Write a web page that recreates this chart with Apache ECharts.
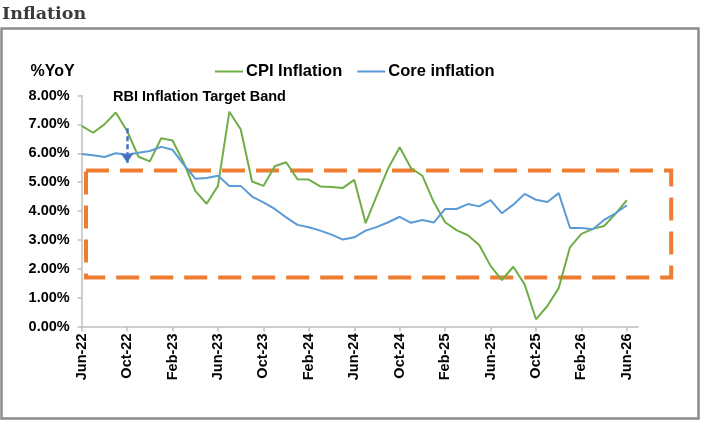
<!DOCTYPE html>
<html>
<head>
<meta charset="utf-8">
<script src="https://cdn.jsdelivr.net/npm/echarts@6/dist/echarts.min.js"></script>
<style>
  html, body { margin: 0; padding: 0; background: #fff; }
  #chart { width: 703px; height: 421px; }
</style>
</head>
<body>
<div id="chart"></div>
<script>
// monthly categories, one extra month at the end so the axis runs a bit past Jun-26
const months = [
  'Jun-22', 'Jul-22', 'Aug-22', 'Sep-22', 'Oct-22', 'Nov-22', 'Dec-22',
  'Jan-23', 'Feb-23', 'Mar-23', 'Apr-23', 'May-23', 'Jun-23', 'Jul-23', 'Aug-23', 'Sep-23', 'Oct-23', 'Nov-23', 'Dec-23',
  'Jan-24', 'Feb-24', 'Mar-24', 'Apr-24', 'May-24', 'Jun-24', 'Jul-24', 'Aug-24', 'Sep-24', 'Oct-24', 'Nov-24', 'Dec-24',
  'Jan-25', 'Feb-25', 'Mar-25', 'Apr-25', 'May-25', 'Jun-25', 'Jul-25', 'Aug-25', 'Sep-25', 'Oct-25', 'Nov-25', 'Dec-25',
  'Jan-26', 'Feb-26', 'Mar-26', 'Apr-26', 'May-26', 'Jun-26', 'Jul-26'
];

const cpiInflation = [
  6.95, 6.71, 7.00, 7.41, 6.77, 5.88, 5.72,
  6.52, 6.44, 5.66, 4.70, 4.25, 4.87, 7.44, 6.83, 5.02, 4.87, 5.55, 5.69,
  5.10, 5.09, 4.85, 4.83, 4.80, 5.08, 3.58, 4.55, 5.49, 6.21, 5.48, 5.22,
  4.31, 3.61, 3.34, 3.16, 2.82, 2.10, 1.61, 2.07, 1.46, 0.25, 0.71, 1.33,
  2.75, 3.21, 3.38, 3.48, 3.90, 4.38
];

const coreInflation = [
  5.97, 5.93, 5.87, 6.00, 5.95, 6.02, 6.08,
  6.22, 6.12, 5.60, 5.12, 5.14, 5.22, 4.87, 4.87, 4.50, 4.30, 4.07, 3.78,
  3.52, 3.44, 3.32, 3.18, 3.01, 3.09, 3.32, 3.45, 3.61, 3.80, 3.59, 3.69,
  3.60, 4.07, 4.07, 4.24, 4.16, 4.38, 3.92, 4.22, 4.59, 4.39, 4.31, 4.62,
  3.41, 3.41, 3.37, 3.69, 3.92, 4.20
];

// annotations
const arrowMonth = 'Oct-22';
const arrowFrom = 6.87;
const arrowTo = 5.67;
const bandTop = 5.4;
const bandBottom = 1.7;

const font = "'Liberation Sans', Arial, sans-serif";
const axisGrey = '#bfbfbf';

// put the value label on the last point of a series
function withEndLabel(values, offset) {
  return values.map((v, i) => i !== values.length - 1 ? v : {
    value: v,
    label: {
      show: true,
      position: 'right',
      offset: offset,
      formatter: (p) => p.value.toFixed(2) + '%',
      fontFamily: font,
      fontSize: 16,
      fontWeight: 'bold',
      color: '#000'
    }
  });
}

const chart = echarts.init(document.getElementById('chart'), null, { renderer: 'canvas' });

const option = {
  animation: false,
  backgroundColor: '#fff',
  title: [
    {
      text: 'Inflation',
      left: 2,
      top: 5,
      padding: 0,
      textStyle: { fontFamily: "'DejaVu Serif', serif", fontWeight: 'bold', fontSize: 17.5, color: '#3b3b3b' }
    },
    {
      text: 'RBI Inflation Target Band',
      left: 113,
      top: 89,
      padding: 0,
      textStyle: { fontFamily: font, fontWeight: 'bold', fontSize: 14.5, color: '#000' }
    }
  ],
  legend: {
    data: ['CPI Inflation', 'Core inflation'],
    left: 210,
    top: 58,
    icon: 'rect',
    itemWidth: 28,
    itemHeight: 2,
    itemGap: 15,
    textStyle: { fontFamily: font, fontSize: 16.5, fontWeight: 'bold', color: '#000', padding: [0, 0, 0, -2] }
  },
  grid: {
    left: 81.7,
    right: 64.8,
    top: 95.5,
    bottom: 94.5,
    containLabel: false
  },
  xAxis: {
    type: 'category',
    data: months,
    boundaryGap: false,
    axisLine: { lineStyle: { color: axisGrey, width: 1.5 } },
    axisTick: { show: true, interval: 3, length: 5, lineStyle: { color: axisGrey, width: 1.5 } },
    axisLabel: {
      interval: 3,
      rotate: 90,
      margin: 7,
      fontFamily: font,
      fontSize: 14.5,
      fontWeight: 'bold',
      color: '#000'
    },
    splitLine: { show: false }
  },
  yAxis: {
    type: 'value',
    min: 0,
    max: 8,
    interval: 1,
    name: '%YoY',
    nameLocation: 'end',
    nameGap: 24,
    nameTextStyle: {
      fontFamily: font,
      fontSize: 16,
      fontWeight: 'bold',
      color: '#000',
      align: 'right',
      verticalAlign: 'middle',
      padding: [0, 7, 0, 0]
    },
    axisLine: { show: true, lineStyle: { color: axisGrey, width: 1.5 } },
    axisTick: { show: true, length: 4, lineStyle: { color: axisGrey, width: 1.5 } },
    axisLabel: {
      margin: 12,
      formatter: (v) => v.toFixed(2) + '%',
      fontFamily: font,
      fontSize: 14.5,
      fontWeight: 'bold',
      color: '#000'
    },
    splitLine: { show: false }
  },
  series: [
    {
      name: 'CPI Inflation',
      type: 'line',
      data: withEndLabel(cpiInflation, [-11, -10]),
      symbol: 'none',
      color: '#70ad47',
      lineStyle: { color: '#70ad47', width: 2 },
      z: 3
    },
    {
      name: 'Core inflation',
      type: 'line',
      data: withEndLabel(coreInflation, [-14, 27]),
      symbol: 'none',
      color: '#5b9bd5',
      lineStyle: { color: '#5b9bd5', width: 2 },
      z: 4,
      markLine: {
        silent: true,
        symbol: ['none', 'arrow'],
        symbolSize: [10, 10],
        label: { show: false },
        lineStyle: { color: '#4472c4', type: [5, 3], width: 2.5 },
        data: [[{ coord: [arrowMonth, arrowFrom] }, { coord: [arrowMonth, arrowTo] }]]
      }
    }
  ]
};

chart.setOption(option);

// target band box and outer frame, placed from the axis scales
const pTop = chart.convertToPixel({ gridIndex: 0 }, [months[0], bandTop]);
const pBottom = chart.convertToPixel({ gridIndex: 0 }, [months[0], bandBottom]);
const step = chart.convertToPixel({ gridIndex: 0 }, [months[1], 0])[0] - pTop[0];
const axisEnd = chart.convertToPixel({ gridIndex: 0 }, [months[months.length - 1], 0])[0];
const bandLeft = pTop[0] + step * 0.38;
const bandRight = axisEnd + 33;

chart.setOption({
  graphic: [
    {
      type: 'rect',
      z: 1,
      silent: true,
      shape: { x: 1.5, y: 28.5, width: 697, height: 390 },
      style: { fill: 'none', stroke: '#8c8c8c', lineWidth: 2.5 }
    },
    {
      type: 'rect',
      z: 2,
      silent: true,
      shape: { x: bandLeft, y: pTop[1], width: bandRight - bandLeft, height: pBottom[1] - pTop[1] },
      style: { fill: 'none', stroke: '#ed7d31', lineWidth: 4, lineDash: [23, 11] }
    }
  ]
});
</script>
</body>
</html>
